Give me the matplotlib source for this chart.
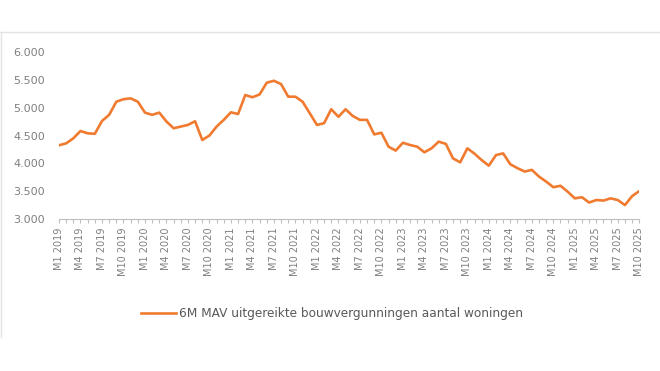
import numpy as np
import matplotlib
matplotlib.use('Agg')
import matplotlib.pyplot as plt
from matplotlib.lines import Line2D
from matplotlib.ticker import MultipleLocator, FuncFormatter

# maandlabels M1 2019 .. M10 2025
years = [2019, 2020, 2021, 2022, 2023, 2024, 2025]
months = [f'M{m} {y}' for y in years for m in range(1, 13)][:82]

mav = [4325, 4360, 4450, 4580, 4540, 4530, 4760, 4870, 5105, 5150,
       5165, 5105, 4910, 4870, 4910, 4750, 4630, 4660, 4690, 4755,
       4420, 4500, 4660, 4780, 4915, 4885, 5225, 5185, 5235, 5445,
       5480, 5420, 5195, 5195, 5105, 4900, 4690, 4720, 4970, 4835,
       4970, 4850, 4780, 4780, 4520, 4550, 4300, 4230, 4370, 4330,
       4300, 4200, 4270, 4390, 4350, 4090, 4020, 4270, 4175, 4060,
       3960, 4150, 4180, 3985, 3915, 3855, 3885, 3765, 3675, 3575,
       3600, 3495, 3375, 3395, 3300, 3345, 3335, 3375, 3345, 3255,
       3415, 3505]

label_name = '6M MAV uitgereikte bouwvergunningen aantal woningen'
orange = '#F07B30'
grey = '#7f7f7f'

fig = plt.figure(figsize=(6.6, 3.71), dpi=100)
ax = fig.add_axes([0.0894, 0.4089, 0.8792, 0.4517])

x = np.arange(len(mav))
ax.plot(x, mav, color=orange, linewidth=1.9, label=label_name,
        solid_joinstyle='round')

ax.set_xlim(0, len(mav) - 1)
ax.set_ylim(3000, 6000)
ax.yaxis.set_major_locator(MultipleLocator(500))
ax.yaxis.set_major_formatter(FuncFormatter(lambda v, p: f'{v/1000:.3f}'))

ax.set_xticks(x[::3])
ax.set_xticklabels(months[::3], rotation=90)
ax.set_xticks(x, minor=True)

for s in ['top', 'right', 'left']:
    ax.spines[s].set_visible(False)
ax.spines['bottom'].set_color('#bfbfbf')
ax.spines['bottom'].set_linewidth(0.8)

ax.tick_params(axis='y', length=0, pad=10, labelsize=8, labelcolor=grey)
ax.tick_params(axis='x', which='both', length=3, color='#bfbfbf',
               width=0.8, pad=3, labelsize=7, labelcolor=grey)

ax.legend(loc='center', bbox_to_anchor=(0.503, 0.1555),
          bbox_transform=fig.transFigure, frameon=False, fontsize=8.7,
          handlelength=2.9, handletextpad=0.3, labelcolor='#595959')

# lichte kader boven/links
fig.add_artist(Line2D([0, 1], [0.9137, 0.9137], color='#e3e3e3', lw=1,
                      transform=fig.transFigure))
fig.add_artist(Line2D([0.001, 0.001], [0.0916, 0.9137], color='#e3e3e3', lw=1,
                      transform=fig.transFigure))

fig.savefig('out.png', dpi=100)
